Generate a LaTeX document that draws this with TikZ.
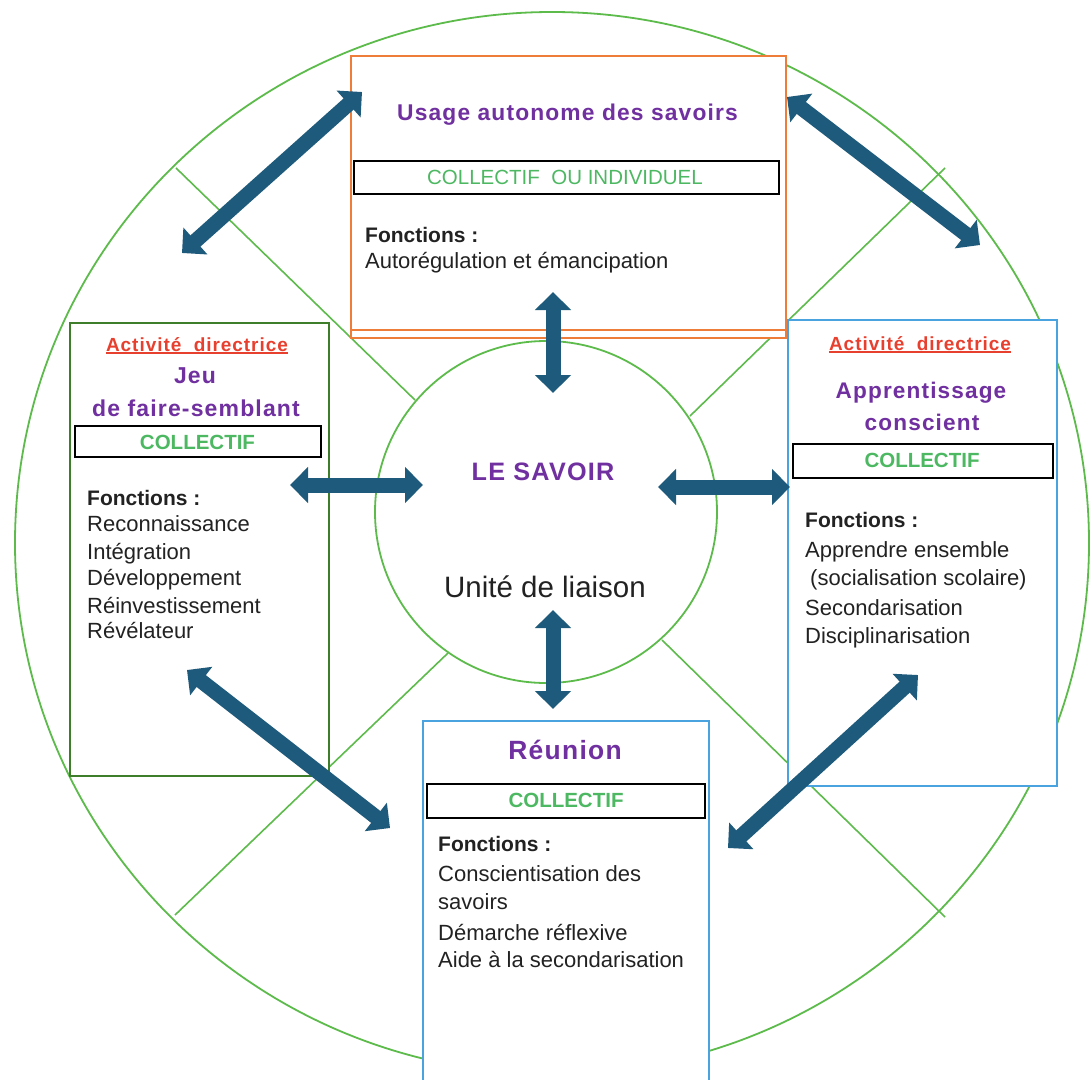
\documentclass[tikz,border=0pt]{standalone}
\usepackage{fontspec}
\setmainfont{Liberation Sans}
\newfontfamily\titlefont{Liberation Sans}[LetterSpace=5]
\usetikzlibrary{arrows.meta}
\definecolor{purp}{HTML}{7030A0}
\definecolor{redc}{HTML}{E8402F}
\definecolor{greent}{HTML}{4DB862}
\definecolor{greenl}{HTML}{5DBB4C}
\definecolor{greend}{HTML}{3E7D2A}
\definecolor{orangec}{HTML}{EE7D3A}
\definecolor{bluec}{HTML}{4AA3DF}
\definecolor{arrowc}{HTML}{1E5A7B}
\definecolor{bodyc}{HTML}{222222}
\tikzset{
  boxc/.style={fill=white, line width=1.8, inner sep=0, anchor=north west},
  tagbox/.style={draw=black, line width=1.8, fill=white, inner sep=0, anchor=north west},
  body/.style={font=\fontsize{22}{26}\selectfont, text=bodyc, inner sep=0, anchor=base west},
  bodyb/.style={body, font=\bfseries\fontsize{21}{25}\selectfont},
  ttl/.style={inner sep=0, anchor=base, text=purp},
  activ/.style={inner sep=0, anchor=base, text=redc, font=\titlefont\bfseries\fontsize{19}{22}\selectfont},
  tagtxt/.style={inner sep=0, anchor=base, text=greent, font=\bfseries\fontsize{20.5}{24}\selectfont},
  bigarrow/.style={draw=arrowc, line width=15, {Triangle[length=18pt,width=35pt]}-{Triangle[length=18pt,width=35pt]}},
  radial/.style={draw=greenl, line width=1.6}
}
\begin{document}
\begin{tikzpicture}[x=1pt,y=-1pt]
\clip (0,0) rectangle (1092,1079);
\fill[white] (0,0) rectangle (1092,1079);

% outer circle and radial lines
\draw[greenl, line width=1.8] (552,543) ellipse [x radius=537, y radius=531];
\draw[radial] (176,168) -- (415,400);
\draw[radial] (945,168) -- (690,416);
\draw[radial] (175,915) -- (448,653);
\draw[radial] (945,917) -- (662,640);

% central circle
\node[draw=greenl, line width=1.8, circle, minimum size=342, inner sep=0] (savoir) at (546,512) {};
\node[ttl, font=\titlefont\bfseries\fontsize{25.2}{29}\selectfont] (savoirt) at (543,480) {LE SAVOIR};
\node[inner sep=0, anchor=base, text=bodyc, font=\fontsize{29.5}{34}\selectfont] (liaison) at (545,597) {Unité de liaison};

% top box
\node[boxc, draw=orangec, minimum width=435, minimum height=282] (topbox) at (350,55) {};
\draw[orangec, line width=1.8] (350,330) -- (785,330);
\node[ttl, font=\titlefont\bfseries\fontsize{22.8}{27}\selectfont] (toptitle) at (567.5,120) {Usage autonome des savoirs};
\node[tagbox, minimum width=425, minimum height=33] (toptag) at (353,160) {};
\node[inner sep=0, anchor=base, text=greent, font=\fontsize{20.5}{24}\selectfont] (toptagt) at (565,184) {COLLECTIF\ \ OU INDIVIDUEL};
\node[bodyb] (topf) at (365,242) {Fonctions :};
\node[body] (topl1) at (365,268) {Autorégulation et émancipation};

% left box
\node[boxc, draw=greend, minimum width=259, minimum height=453] (leftbox) at (69,322) {};
\node[activ] (lact) at (197,351) {Activité\ \ directrice};
\draw[redc, line width=1.4] ([yshift=-2pt]lact.base west) -- ([yshift=-2pt]lact.base east);
\node[ttl, font=\titlefont\bfseries\fontsize{23}{27}\selectfont] (ljeu) at (195,383) {Jeu};
\node[ttl, font=\titlefont\bfseries\fontsize{23}{27}\selectfont] (ljeu2) at (196,416) {de faire-semblant};
\node[tagbox, minimum width=246, minimum height=31] (ltag) at (74,425) {};
\node[tagtxt] (ltagt) at (197.5,449) {COLLECTIF};
\node[bodyb] (lf) at (87,505) {Fonctions :};
\foreach \t/\yy [count=\i] in {Reconnaissance/531, Intégration/559, Développement/585, Réinvestissement/613, Révélateur/638}
  \node[body] (ll\i) at (87,\yy) {\t};

% right box
\node[boxc, draw=bluec, minimum width=269, minimum height=466] (rightbox) at (787,319) {};
\node[activ] (ract) at (920,350) {Activité\ \ directrice};
\draw[redc, line width=1.4] ([yshift=-2pt]ract.base west) -- ([yshift=-2pt]ract.base east);
\node[ttl, font=\titlefont\bfseries\fontsize{22.6}{27}\selectfont] (rapp) at (921,398) {Apprentissage};
\node[ttl, font=\titlefont\bfseries\fontsize{22.6}{27}\selectfont] (rapp2) at (922,430) {conscient};
\node[tagbox, minimum width=260, minimum height=34] (rtag) at (792,443) {};
\node[tagtxt] (rtagt) at (922,467) {COLLECTIF};
\node[bodyb] (rf) at (805,527) {Fonctions :};
\node[body] (rl1) at (805,557) {Apprendre ensemble};
\node[body] (rl2) at (810,585) {(socialisation scolaire)};
\node[body] (rl3) at (805,615) {Secondarisation};
\node[body] (rl4) at (805,643) {Disciplinarisation};

% bottom box
\node[boxc, draw=bluec, minimum width=286, minimum height=380] (botbox) at (422,720) {};
\node[ttl, font=\titlefont\bfseries\fontsize{26.4}{30}\selectfont] (reunion) at (565,759) {Réunion};
\node[tagbox, minimum width=278, minimum height=34] (btag) at (426,783) {};
\node[tagtxt] (btagt) at (566,807) {COLLECTIF};
\node[bodyb] (bf) at (438,851) {Fonctions :};
\foreach \t/\yy [count=\i] in {Conscientisation des/881, savoirs/909, Démarche réflexive/940, Aide à la secondarisation/967}
  \node[body] (bl\i) at (438,\yy) {\t};

% arrow end points
\coordinate (aT1) at (553,292); \coordinate (aT2) at (553,393);
\coordinate (aB1) at (553,610); \coordinate (aB2) at (553,709);
\coordinate (aL1) at (290,485); \coordinate (aL2) at (423,485);
\coordinate (aR1) at (658,487); \coordinate (aR2) at (790,487);
\coordinate (dTL1) at (182,253); \coordinate (dTL2) at (362,92);
\coordinate (dTR1) at (787,97); \coordinate (dTR2) at (980,245);
\coordinate (dBL1) at (187,670); \coordinate (dBL2) at (390,828);
\coordinate (dBR1) at (918,675); \coordinate (dBR2) at (728,848);

\draw[bigarrow] (aT1) -- (aT2);
\draw[bigarrow] (aB1) -- (aB2);
\draw[bigarrow] (aL1) -- (aL2);
\draw[bigarrow] (aR1) -- (aR2);
\draw[bigarrow] (dTL1) -- (dTL2);
\draw[bigarrow] (dTR1) -- (dTR2);
\draw[bigarrow] (dBL1) -- (dBL2);
\draw[bigarrow] (dBR1) -- (dBR2);
\end{tikzpicture}
\end{document}
